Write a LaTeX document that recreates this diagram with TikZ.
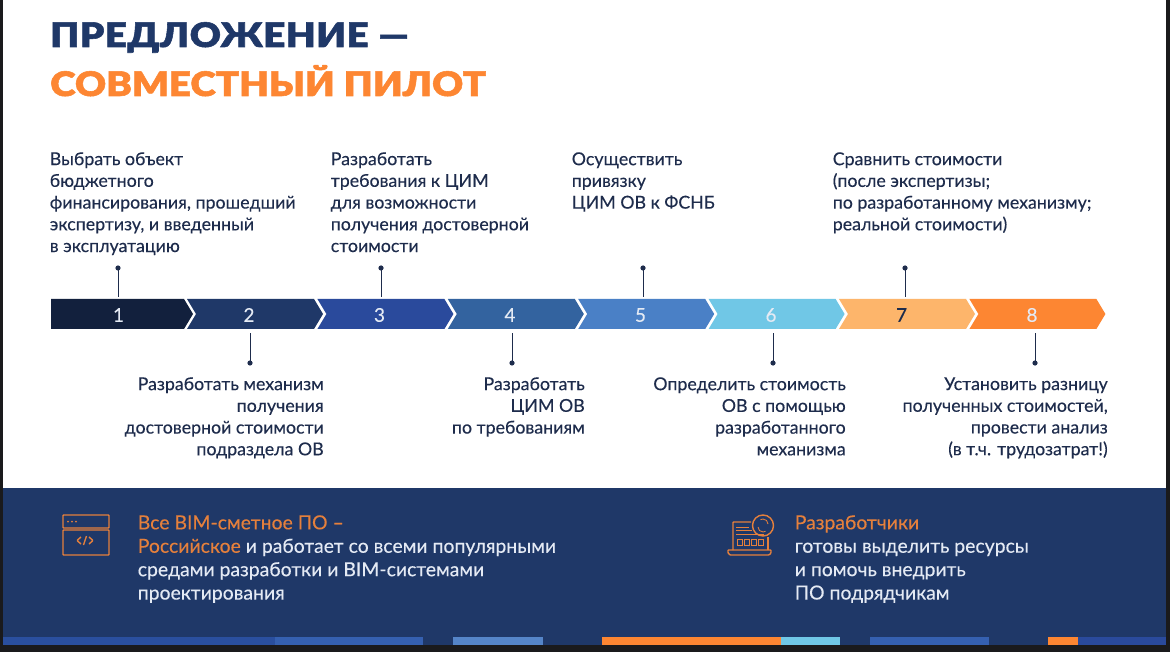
\documentclass[tikz,border=0pt]{standalone}
\usepackage{fontspec}
\setmainfont{Lato}[FakeBold=0.2]
\newfontfamily\titlefont{Lato Black}[FakeStretch=1.14, FakeBold=1.6]
\definecolor{navy}{HTML}{1F3868}
\definecolor{ink}{HTML}{1E2C4C}
\definecolor{orange}{HTML}{FD8632}
\definecolor{iconorange}{HTML}{E5803C}
\definecolor{paleblue}{HTML}{E4EAF4}
\definecolor{frame}{HTML}{1A1A1C}
\definecolor{cA}{HTML}{12203D}
\definecolor{cB}{HTML}{1F3868}
\definecolor{cC}{HTML}{2A4A9C}
\definecolor{cD}{HTML}{33639F}
\definecolor{cE}{HTML}{4A80C6}
\definecolor{cF}{HTML}{70C7E6}
\definecolor{cG}{HTML}{FDB56B}
\definecolor{cH}{HTML}{FD8632}
\definecolor{stripeA}{HTML}{2A4F9E}
\definecolor{stripeB}{HTML}{3560B0}
\definecolor{stripeC}{HTML}{5585C8}
\tikzset{
  stepnum/.style={minimum width=40, minimum height=36*0.7113pt, inner sep=0pt, font=\fontsize{13.5}{15}\selectfont},
  lead/.style={draw=ink, line width=0.7pt},
  note/.style={inner sep=0pt, text=ink, font=\fontsize{12.65}{15.45}\selectfont},
  topnote/.style={note, anchor=north west, align=left},
  botnote/.style={note, anchor=north east, align=right},
  panelnote/.style={inner sep=0pt, anchor=north west, align=left, text=paleblue, font=\fontsize{13.8}{16.65}\selectfont},
  titletext/.style={inner sep=0pt, anchor=base west, font=\titlefont\fontsize{24}{26}\selectfont},
  icon/.style={draw=iconorange, line width=1pt, rounded corners=0.5pt},
  thinicon/.style={draw=iconorange, line width=0.6pt},
}
\begin{document}
\begin{tikzpicture}[x=0.025cm, y=-0.025cm]
\useasboundingbox (0, 0) rectangle (1170, 655);
\fill [white] (0, 0) rectangle (1170, 655);
\fill [navy] (3, 488) rectangle (1166, 645);
\fill [frame] (0, 0) rectangle (3, 652);
\fill [frame] (1166, 0) rectangle (1170, 652);
\fill [frame] (0, 645) rectangle (1170, 652);
\fill [stripeA] (3, 637) rectangle (275, 645);
\fill [stripeB] (275, 637) rectangle (423, 645);
\fill [stripeC] (453, 637) rectangle (543, 645);
\fill [orange] (602, 637) rectangle (781, 645);
\fill [cF] (781, 637) rectangle (840, 645);
\fill [stripeB] (870, 637) rectangle (989, 645);
\fill [orange] (1048, 637) rectangle (1078, 645);
\fill [cC] (1078, 637) rectangle (1166, 645);
\node [titletext, text=navy] (title1) at (50, 47) {\addfontfeature{LetterSpace=1.6}ПРЕДЛОЖЕНИЕ —};
\node [titletext, text=orange] (title2) at (50, 96) {СОВМЕСТНЫЙ ПИЛОТ};
\fill [cA] (51, 299) -- (184, 299) -- (193, 314) -- (184, 329) -- (51, 329) -- cycle;
\foreach \i/\col in {2/cB, 3/cC, 4/cD, 5/cE, 6/cF, 7/cG, 8/cH}
  \fill [\col] ({187+(\i-2)*130.4}, 299) -- ++(127, 0) -- ++(9, 15) -- ++(-9, 15) -- ++(-127, 0) -- ++(9, -15) -- cycle;
\foreach \i/\col in {1/paleblue, 2/paleblue, 3/paleblue, 4/paleblue, 5/paleblue, 6/paleblue, 7/ink, 8/paleblue}
  \node [stepnum, text=\col] (s\i) at ({118.5+(\i-1)*130.5}, 315) {\i};
\foreach \i/\px/\py in {1/118/268, 3/381/268, 5/643/268, 7/905/268, 2/250/363, 4/512/363, 6/773/363, 8/1035/363} {
  \coordinate (d\i) at (\px, \py);
  \fill [ink] (d\i) circle (2.6);
}
\foreach \i in {1, 3, 5, 7}
  \draw [lead] (d\i) -- (d\i |- s\i.north);
\foreach \i in {2, 4, 6, 8}
  \draw [lead] (d\i) -- (d\i |- s\i.south);
\node [topnote] (t1) at (49.5, 152) {Выбрать объект\\бюджетного\\финансирования, прошедший\\экспертизу, и введенный\\в эксплуатацию};
\node [topnote] (t3) at (330.5, 152) {Разработать\\требования к ЦИМ\\для возможности\\получения достоверной\\стоимости};
\node [topnote] (t5) at (571.5, 152) {Осуществить\\привязку\\ЦИМ ОВ к ФСНБ};
\node [topnote] (t7) at (832.5, 152) {Сравнить стоимости\\(после экспертизы;\\по разработанному механизму;\\реальной стоимости)};
\node [botnote] (t2) at (324, 377) {Разработать механизм\\получения\\достоверной стоимости\\подраздела ОВ};
\node [botnote] (t4) at (585, 377) {Разработать\\ЦИМ ОВ\\по требованиям};
\node [botnote] (t6) at (846, 377) {Определить стоимость\\ОВ с помощью\\разработанного\\механизма};
\node [botnote] (t8) at (1108, 377) {Установить разницу\\полученных стоимостей,\\провести анализ\\(в т.ч. трудозатрат!)};
\node [panelnote] (p1) at (137.5, 515) {\textcolor{iconorange}{Все BIM-сметное ПО –}\\\textcolor{iconorange}{Российское} и работает со всеми популярными\\средами разработки и BIM-системами\\проектирования};
\node [panelnote] (p2) at (794.5, 515) {\textcolor{iconorange}{Разработчики}\\готовы выделить ресурсы\\и помочь внедрить\\ПО подрядчикам};
\draw [icon] (63, 515) rectangle (109, 528);
\draw [icon] (63, 530) rectangle (109, 555);
\foreach \x in {68, 72, 76}
  \fill [iconorange] (\x, 521.5) circle (1);
\draw [icon] (81, 537) -- (77, 540.5) -- (81, 544);
\draw [icon] (89, 537) -- (93, 540.5) -- (89, 544);
\draw [icon] (86.5, 536) -- (83.5, 545);
\draw [icon] (751, 522) -- (733, 522) -- (733, 550);
\draw [icon] (768, 537) -- (768, 550);
\draw [icon] (728, 550) -- (771, 550) -- (771, 553) -- (769, 555) -- (730, 555) -- (728, 553) -- cycle;
\draw [icon] (763, 525.5) circle (10.5);
\draw [thinicon] (758, 527) arc (180:60:5);
\draw [thinicon] (768, 524) arc (0:-120:5);
\foreach \x in {737, 744, 751, 758}
  \draw [thinicon] (\x, 539) rectangle +(5, 6);
\draw [thinicon] (736, 527) -- (749, 527);
\draw [thinicon] (736, 530.5) -- (752, 530.5);
\draw [thinicon] (736, 534) -- (764, 534);
\end{tikzpicture}
\end{document}
